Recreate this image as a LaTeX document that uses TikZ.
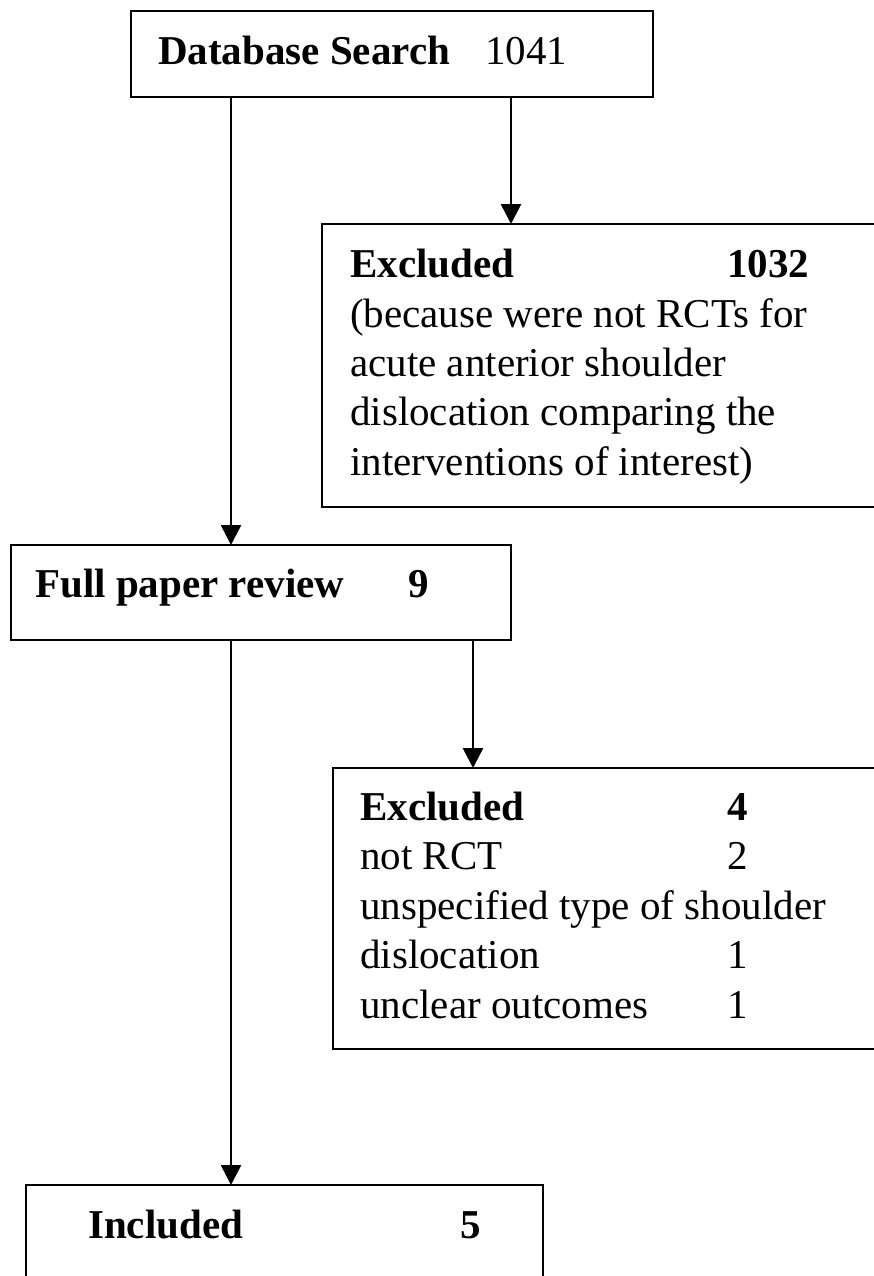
\documentclass[tikz,border=0pt]{standalone}
\usepackage{fontspec}
\setmainfont{Liberation Serif}
\usetikzlibrary{arrows.meta}
\begin{document}
\begin{tikzpicture}[x=1pt,y=-1pt,
 box/.style={draw, line width=2.6pt, inner sep=0pt, outer sep=0pt, anchor=north west},
 txt/.style={anchor=base west, inner sep=0pt, font=\fontsize{41}{49}\selectfont},
 btxt/.style={anchor=base west, inner sep=0pt, font=\fontsize{41}{49}\selectfont\bfseries},
 arr/.style={line width=2.6pt, -{Triangle[width=20pt,length=20pt]}}]
\useasboundingbox (0,0) rectangle (873,1276);
% boxes
\node[box, minimum width=522pt, minimum height=86pt] (db) at (131,11) {};
\node[box, minimum width=560pt, minimum height=283pt] (ex1) at (322,224) {};
\node[box, minimum width=500pt, minimum height=95pt] (full) at (11,545) {};
\node[box, minimum width=550pt, minimum height=281pt] (ex2) at (333,768) {};
\node[box, minimum width=517pt, minimum height=120pt] (inc) at (26,1185) {};
% connector x positions
\coordinate (cl) at (231,0);
\coordinate (cr1) at (511,0);
\coordinate (cr2) at (473,0);
% connectors
\draw[arr] (db.south -| cr1) -- (ex1.north -| cr1);
\draw[arr] (db.south -| cl) -- (full.north -| cl);
\draw[arr] (full.south -| cr2) -- (ex2.north -| cr2);
\draw[arr] (full.south -| cl) -- (inc.north -| cl);
% texts
\node[btxt] (t1) at (158,65) {Database Search};
\node[txt] (t1n) at (485,65) {1041};
\node[btxt] (t2) at (350,277) {Excluded};
\node[btxt] (t2n) at (727,277) {1032};
\node[txt] (t2a) at (350,327) {(because were not RCTs for};
\node[txt] (t2b) at (350,376) {acute anterior shoulder};
\node[txt] (t2c) at (350,425) {dislocation comparing the};
\node[txt] (t2d) at (350,475) {interventions of interest)};
\node[btxt] (t3) at (35,597) {Full paper review};
\node[btxt] (t3n) at (408,597) {9};
\node[btxt] (t4) at (360,820) {Excluded};
\node[btxt] (t4n) at (727,820) {4};
\node[txt] (t4a) at (360,869) {not RCT};
\node[txt] (t4an) at (727,869) {2};
\node[txt] (t4b) at (360,919) {unspecified type of shoulder};
\node[txt] (t4c) at (360,968) {dislocation};
\node[txt] (t4cn) at (727,968) {1};
\node[txt] (t4d) at (360,1018) {unclear outcomes};
\node[txt] (t4dn) at (727,1018) {1};
\node[btxt] (t5) at (88,1238) {Included};
\node[btxt] (t5n) at (460,1238) {5};
\end{tikzpicture}
\end{document}
